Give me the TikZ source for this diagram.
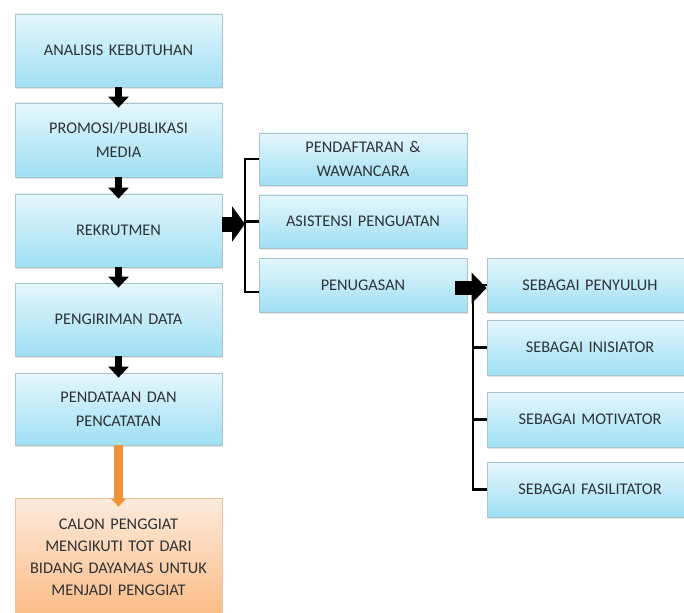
\documentclass[tikz,border=0pt]{standalone}
\usepackage{fontspec}
\setmainfont{Carlito}
\usetikzlibrary{arrows.meta,shadows}
\definecolor{boxtop}{HTML}{E4F7FC}
\definecolor{boxbot}{HTML}{A0DFF4}
\definecolor{boxline}{HTML}{A9C4CC}
\definecolor{ortop}{HTML}{FDEBDC}
\definecolor{orbot}{HTML}{FBBC86}
\definecolor{orline}{HTML}{E3C2A6}
\definecolor{txt}{HTML}{2E3236}
\definecolor{orarrow}{HTML}{F0923A}
\begin{document}
\begin{tikzpicture}[x=1pt,y=-1pt,
  basebox/.style={line width=0.8pt, minimum width=207pt, text width=200pt,
    align=center, text=txt, inner sep=0pt,
    drop shadow={opacity=0.22,shadow xshift=1pt,shadow yshift=-1.8pt}},
  box/.style={basebox, draw=boxline, top color=boxtop, bottom color=boxbot,
    font=\fontsize{16.3}{24}\selectfont},
  obox/.style={basebox, draw=orline, top color=ortop, bottom color=orbot,
    font=\fontsize{16.3}{22}\selectfont},
  downarr/.style={line width=7pt, -{Triangle[width=20pt,length=11pt]}, shorten >=-5pt},
  orarr/.style={draw=orarrow, line width=8.5pt, -{Triangle[width=15pt,length=8pt]}, shorten >=-9pt},
  bigarr/.style={line width=15pt, -{Triangle[width=35pt,length=13pt]}},
  midarr/.style={line width=14pt, -{Triangle[width=30pt,length=15pt]}},
  brk/.style={line width=2.3pt, line cap=butt, line join=miter}]

\clip (0,0) rectangle (684,612);
\fill[white] (0,0) rectangle (684,612);

% main sequence
\node[box, minimum height=73pt] (ana) at (118.5,50.5) {ANALISIS KEBUTUHAN};
\node[box, minimum height=74pt] (pro) at (118.5,140) {PROMOSI/PUBLIKASI\\MEDIA};
\node[box, minimum height=73pt] (rek) at (118.5,230.5) {REKRUTMEN};
\node[box, minimum height=73pt] (kir) at (118.5,319.5) {PENGIRIMAN DATA};
\node[box, minimum height=72pt] (dat) at (118.5,409) {PENDATAAN DAN\\PENCATATAN};
\node[obox, minimum height=118pt] (tot) at (118.5,557)
  {CALON PENGGIAT\\MENGIKUTI TOT DARI\\BIDANG DAYAMAS UNTUK\\MENJADI PENGGIAT};

% recruitment stages
\node[box, minimum width=208pt, minimum height=52pt] (pend) at (363,159) {PENDAFTARAN \&\\WAWANCARA};
\node[box, minimum width=208pt, minimum height=53pt] (asi) at (363,221.5) {ASISTENSI PENGUATAN};
\node[box, minimum width=208pt, minimum height=54pt] (penu) at (363,285) {PENUGASAN};

% assignment roles
\node[box, minimum width=206pt, minimum height=54pt] (pny) at (590,285) {SEBAGAI PENYULUH};
\node[box, minimum width=206pt, minimum height=55pt] (ini) at (590,347.5) {SEBAGAI INISIATOR};
\node[box, minimum width=206pt, minimum height=55pt] (mot) at (590,419.5) {SEBAGAI MOTIVATOR};
\node[box, minimum width=206pt, minimum height=55pt] (fas) at (590,489.5) {SEBAGAI FASILITATOR};

% flow arrows
\draw[downarr] (ana.south) -- (pro.north);
\draw[downarr] (pro.south) -- (rek.north);
\draw[downarr] (rek.south) -- (kir.north);
\draw[downarr] (kir.south) -- (dat.north);
\draw[orarr] (dat.south) -- (tot.north);

% bracket to recruitment stages
\coordinate (b1) at (245,224);
\coordinate (pb) at ([yshift=-7pt]penu.west);
\draw[brk] (pend.west) -- (pend.west -| b1) -- (pb -| b1) -- (pb);
\draw[brk] (b1 |- asi.west) -- (asi.west);
\draw[bigarr] (rek.east |- b1) -- (b1);

% bracket to roles
\coordinate (b2) at (473,288);
\coordinate (ps) at (455,288);
\draw[brk] (b2) -- (b2 |- fas.west) -- (fas.west);
\draw[brk] (b2 |- ini.west) -- (ini.west);
\draw[brk] (b2 |- mot.west) -- (mot.west);
\draw[brk] (b2 |- pny.west) -- (pny.west);
\draw[midarr] (ps) -- (ps -| pny.west);
\end{tikzpicture}
\end{document}
